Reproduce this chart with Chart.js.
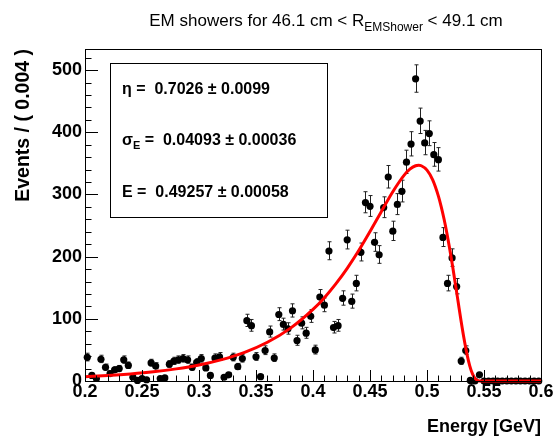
<!DOCTYPE html>
<html><head><meta charset="utf-8">
<script src="https://cdn.jsdelivr.net/npm/chart.js@4.4.0/dist/chart.umd.min.js"></script>
<style>html,body{margin:0;padding:0;background:#fff;}#wrap{width:554px;height:442px;}</style>
</head><body><div id="wrap"><canvas id="c" width="554" height="442"></canvas></div>
<script>
// ---- data ----
const binCenters = [0.202,0.206,0.210,0.214,0.218,0.222,0.226,0.230,0.234,0.238,
 0.242,0.246,0.250,0.254,0.258,0.262,0.266,0.270,0.274,0.278,
 0.282,0.286,0.290,0.294,0.298,0.302,0.306,0.310,0.314,0.318,
 0.322,0.326,0.330,0.334,0.338,0.342,0.346,0.350,0.354,0.358,
 0.362,0.366,0.370,0.374,0.378,0.382,0.386,0.390,0.394,0.398,
 0.402,0.406,0.410,0.414,0.418,0.422,0.426,0.430,0.434,0.438,
 0.442,0.446,0.450,0.454,0.458,0.462,0.466,0.470,0.474,0.478,
 0.482,0.486,0.490,0.494,0.498,0.502,0.506,0.510,0.514,0.518,
 0.522,0.526,0.530,0.534,0.538,0.542,0.546,0.550,0.554,0.558,
 0.562,0.566,0.570,0.574,0.578,0.582,0.586,0.590,0.594,0.598];
const counts = [38,9,4,35,22,12,18,20,34,25,
 6,1,4,2,29,24,4,5,27,32,
 34,36,34,22,30,36,21,9,37,39,
 6,10,38,23,36,97,89,39,7,49,
 79,37,107,91,84,113,65,93,77,104,
 50,135,122,209,86,89,133,227,128,157,
 207,287,281,223,203,279,328,241,284,305,
 352,381,486,418,383,398,364,356,231,157,
 198,152,32,49,1,0,10,0,0,0,
 0,0,0,0,0,0,0,0,0,0];
const curveE = [0.20,0.22,0.24,0.26,0.28,0.30,0.32,0.34,0.36,0.38,0.40,0.41,0.42,0.43,0.44,0.45,0.46,0.47,0.48,0.485,0.49,0.4926,0.495,0.50,0.505,0.51,0.5125,0.515,0.5175,0.52,0.5225,0.525,0.5275,0.53,0.5325,0.535,0.5375,0.54,0.5425,0.545,0.548,0.551,0.56,0.58,0.60];
const curveVal = [6.8,8.8,11.4,14.8,19.5,25.8,34.4,46.1,62.3,84.6,115.1,134.1,156.2,181.3,209.5,240.4,272.8,304.5,331.2,340.7,346.2,347.0,346.2,339.2,323.5,297.4,280.2,260.1,237.2,211.7,184.0,154.8,124.9,95.4,67.9,43.7,24.4,11.0,3.4,0.5,0,0,0,0,0];
const xTickValues = [0.2,0.25,0.3,0.35,0.4,0.45,0.5,0.55,0.6];
const xTickLabels = ['0.2','0.25','0.3','0.35','0.4','0.45','0.5','0.55','0.6'];
const xMinorTicks = [0.21,0.22,0.23,0.24,0.26,0.27,0.28,0.29,0.31,0.32,0.33,0.34,0.36,0.37,0.38,0.39,0.41,0.42,0.43,0.44,0.46,0.47,0.48,0.49,0.51,0.52,0.53,0.54,0.56,0.57,0.58,0.59];
const yTickValues = [0,100,200,300,400,500];
const yTickLabels = ['0','100','200','300','400','500'];
const yMinorTicks = [20,40,60,80,120,140,160,180,220,240,260,280,320,340,360,380,420,440,460,480,520];
const titleMain = 'EM showers for 46.1 cm < R';
const titleSub = 'EMShower';
const titleEnd = ' < 49.1 cm';
const statLines = [
  {pre:'\u03B7', sub:'', post:' =  0.7026 \u00B1 0.0099'},
  {pre:'\u03C3', sub:'E', post:' =  0.04093 \u00B1 0.00036'},
  {pre:'E', sub:'', post:' =  0.49257 \u00B1 0.00058'}
];

const FONT = '"Liberation Sans", Arial, Helvetica, sans-serif';

const rootPlugin = {
  id: 'rootStyle',
  beforeDatasetDraw(chart, args) {
    if (args.index !== 1) return;
    const xs = chart.scales.x, ys = chart.scales.y, ctx = chart.ctx;
    ctx.save();
    ctx.strokeStyle = '#222';
    ctx.lineWidth = 1;
    ctx.beginPath();
    binCenters.forEach((e, i) => {
      const n = counts[i];
      const s = Math.sqrt(n + 0.25);
      const hi = n + s + 0.5, lo = Math.max(n - s + 0.5, 0);
      const px = Math.round(xs.getPixelForValue(e)) + 0.5;
      const pyh = ys.getPixelForValue(hi), pyl = ys.getPixelForValue(lo);
      ctx.moveTo(px, pyh); ctx.lineTo(px, pyl);
      ctx.moveTo(px - 2, pyh); ctx.lineTo(px + 2, pyh);
      ctx.moveTo(px - 2, pyl); ctx.lineTo(px + 2, pyl);
    });
    ctx.stroke();
    ctx.restore();
  },
  afterDraw(chart) {
    const ctx = chart.ctx, a = chart.chartArea;
    const xs = chart.scales.x, ys = chart.scales.y;
    ctx.save();
    // frame
    ctx.strokeStyle = '#000';
    ctx.lineWidth = 1;
    ctx.strokeRect(Math.round(a.left) + 0.5, Math.round(a.top) + 0.5, Math.round(a.right - a.left), Math.round(a.bottom - a.top));
    // ticks
    ctx.beginPath();
    const drawX = (v, len) => { const p = Math.round(xs.getPixelForValue(v)) + 0.5; ctx.moveTo(p, a.bottom); ctx.lineTo(p, a.bottom - len); };
    const drawY = (v, len) => { const p = Math.round(ys.getPixelForValue(v)) + 0.5; ctx.moveTo(a.left, p); ctx.lineTo(a.left + len, p); };
    xTickValues.forEach(v => drawX(v, 11));
    xMinorTicks.forEach(v => drawX(v, 5.5));
    yTickValues.forEach(v => drawY(v, 13));
    yMinorTicks.forEach(v => drawY(v, 6.5));
    ctx.stroke();
    // title
    ctx.fillStyle = '#000';
    ctx.textBaseline = 'alphabetic';
    const fMain = '17px ' + FONT, fSub = '12px ' + FONT;
    ctx.font = fMain; const w1 = ctx.measureText(titleMain).width; const w3 = ctx.measureText(titleEnd).width;
    ctx.font = fSub; const w2 = ctx.measureText(titleSub).width;
    let tx = 326 - (w1 + w2 + w3) / 2; const ty = 26;
    ctx.font = fMain; ctx.fillText(titleMain, tx, ty); tx += w1;
    ctx.font = fSub; ctx.fillText(titleSub, tx, ty + 5); tx += w2;
    ctx.font = fMain; ctx.fillText(titleEnd, tx, ty);
    // stat box
    ctx.strokeStyle = '#000';
    ctx.fillStyle = '#fff';
    ctx.fillRect(110.5, 63.5, 217, 154);
    ctx.strokeRect(110.5, 63.5, 217, 154);
    ctx.fillStyle = '#000';
    const ys0 = [94, 145, 197];
    statLines.forEach((L, i) => {
      let x = 122;
      ctx.font = 'bold 16px ' + FONT;
      ctx.fillText(L.pre, x, ys0[i]); x += ctx.measureText(L.pre).width;
      if (L.sub) { ctx.font = 'bold 11px ' + FONT; ctx.fillText(L.sub, x, ys0[i] + 4); x += ctx.measureText(L.sub).width; }
      ctx.font = 'bold 16px ' + FONT;
      ctx.fillText(L.post, x, ys0[i]);
    });
    ctx.restore();
  }
};

new Chart(document.getElementById('c'), {
  type: 'scatter',
  data: {
    datasets: [
      { type: 'line', label: 'fit', data: curveE.map((e, i) => ({x: e, y: curveVal[i]})),
        borderColor: '#ff0000', borderWidth: 3, pointRadius: 0, fill: false,
        cubicInterpolationMode: 'monotone', order: 1, clip: false },
      { type: 'scatter', label: 'data', data: binCenters.map((e, i) => ({x: e, y: counts[i]})),
        backgroundColor: '#000', borderWidth: 0, pointRadius: 3.6, order: 2, clip: false }
    ]
  },
  options: {
    responsive: false, animation: false, devicePixelRatio: 1,
    layout: { padding: { left: 0, right: 13, top: 49, bottom: 0 } },
    plugins: { legend: { display: false }, tooltip: { enabled: false }, title: { display: false } },
    scales: {
      x: {
        type: 'linear', min: 0.2, max: 0.6,
        afterBuildTicks: s => { s.ticks = xTickValues.map(v => ({value: v})); },
        afterFit: s => { s.height = 61; s.paddingLeft = 0; s.paddingRight = 0; },
        ticks: { callback: (v, i) => xTickLabels[i], color: '#000', maxRotation: 0, minRotation: 0, autoSkip: false, padding: 0,
                 font: { family: FONT, size: 18, weight: 'bold' } },
        grid: { display: false, drawTicks: false },
        border: { display: false },
        title: { display: true, text: 'Energy [GeV]', align: 'end', color: '#000',
                 font: { family: FONT, size: 18, weight: 'bold' }, padding: { top: 0, bottom: 4 } }
      },
      y: {
        type: 'linear', min: 0, max: 534,
        afterBuildTicks: s => { s.ticks = yTickValues.map(v => ({value: v})); },
        afterFit: s => { s.width = 85; s.paddingTop = 0; s.paddingBottom = 0; },
        ticks: { callback: (v, i) => yTickLabels[i], color: '#000', padding: 3,
                 font: { family: FONT, size: 18, weight: 'bold' } },
        grid: { display: false, drawTicks: false },
        border: { display: false },
        title: { display: true, text: 'Events / ( 0.004 )', align: 'end', color: '#000',
                 font: { family: FONT, size: 19.5, weight: 'bold' }, padding: { top: 12, bottom: 0 } }
      }
    }
  },
  plugins: [rootPlugin]
});
</script>
</body></html>
